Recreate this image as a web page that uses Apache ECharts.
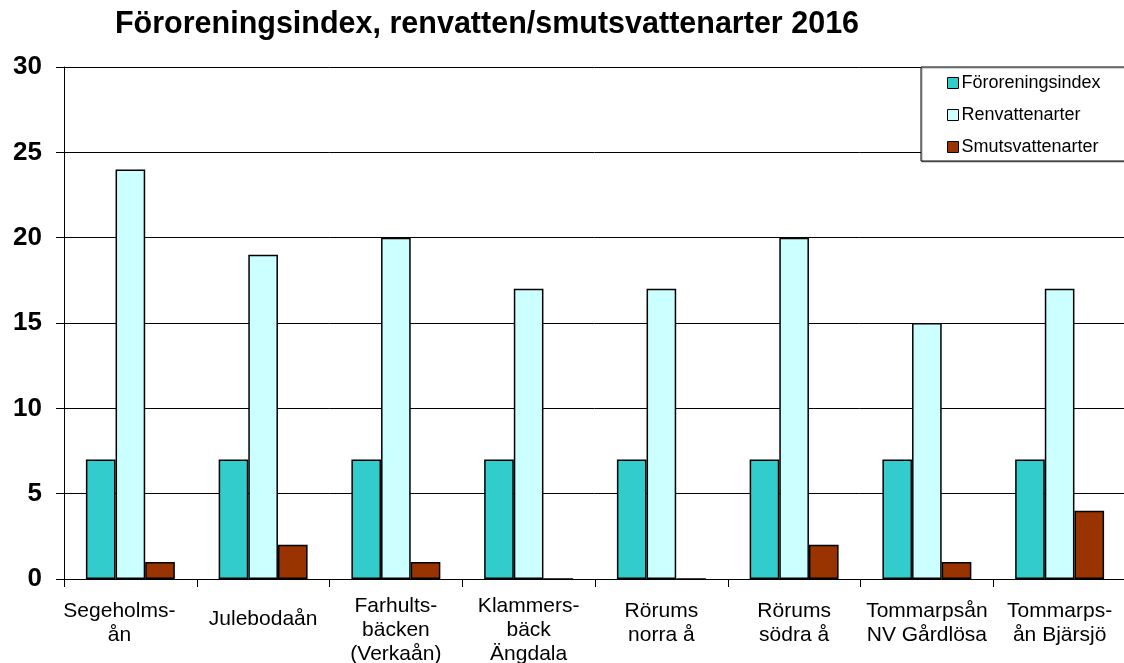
<!DOCTYPE html>
<html><head><meta charset="utf-8">
<script src="https://cdn.jsdelivr.net/npm/echarts@6/dist/echarts.min.js"></script>
<style>html,body{margin:0;padding:0;background:#fff}#c{width:1124px;height:663px}</style>
</head><body><div id="c"></div>
<script>
const categories = ["Segeholms-\nån", "Julebodaån", "Farhults-\nbäcken\n(Verkaån)", "Klammers-\nbäck\nÄngdala", "Rörums\nnorra å", "Rörums\nsödra å", "Tommarpsån\nNV Gårdlösa", "Tommarps-\nån Bjärsjö"];
const fororeningsindex = [7, 7, 7, 7, 7, 7, 7, 7];
const renvattenarter = [24, 19, 20, 17, 17, 20, 15, 17];
const smutsvattenarter = [1, 2, 1, 0, 0, 2, 1, 4];
const yTicks = [0, 5, 10, 15, 20, 25, 30];

const chart = echarts.init(document.getElementById('c'));
const bs = {borderColor: '#000', borderWidth: 1.5};
const FONT = 'Liberation Sans, Arial, sans-serif';
// vertical offset of label block depends on its number of lines (layout only)
const padTop = {1: 13, 2: 5, 3: 0};
const catData = categories.map((c, i) => ({
  value: c,
  textStyle: {padding: [padTop[c.split('\n').length], i === 0 ? 22 : 0, 0, 0]}
}));
chart.setOption({
  animation: false,
  title: {text: 'Föroreningsindex, renvatten/smutsvattenarter 2016', left: 482, textAlign: 'center', top: 4,
    textStyle: {fontFamily: FONT, fontWeight: 'bold', fontSize: 30.5, color: '#000'}},
  legend: {orient: 'vertical', left: 921, top: 67,
    padding: [6, 40, 4, 26], itemGap: 12, itemWidth: 11, itemHeight: 11, icon: 'rect',
    backgroundColor: '#fff', borderColor: '#000', borderWidth: 1,
    shadowColor: 'rgba(0,0,0,0.35)', shadowOffsetX: 1, shadowOffsetY: 1,
    textStyle: {fontFamily: FONT, fontSize: 18, lineHeight: 20, color: '#000', padding: [0,0,0,-2]},
    itemStyle: {borderColor: '#000', borderWidth: 1},
    data: ['Föroreningsindex', 'Renvattenarter', 'Smutsvattenarter']},
  grid: {left: 64, right: -2, top: 67, bottom: 84, containLabel: false, outerBoundsMode: 'none'},
  xAxis: {type: 'category', data: catData,
    axisLine: {lineStyle: {color: '#000', width: 1}},
    axisTick: {show: true, length: 8, lineStyle: {color: '#000'}},
    axisLabel: {interval: 0, fontFamily: FONT, fontSize: 21, color: '#000', lineHeight: 24, margin: 15}},
  yAxis: {type: 'value', min: 0, max: 30, interval: 5,
    axisLine: {show: true, lineStyle: {color: '#000', width: 1}},
    axisTick: {show: true, length: 8, lineStyle: {color: '#000'}},
    splitLine: {lineStyle: {color: '#000', width: 1}},
    axisLabel: {fontFamily: FONT, fontWeight: 'bold', fontSize: 26, color: '#000', margin: 22,
      formatter: v => yTicks.includes(v) ? String(v) : ''}},
  series: [
    {name: 'Föroreningsindex', type: 'bar', data: fororeningsindex, barGap: '0%', barCategoryGap: '33%',
      itemStyle: Object.assign({color: '#33CCCC'}, bs)},
    {name: 'Renvattenarter', type: 'bar', data: renvattenarter, barGap: '0%', barCategoryGap: '33%',
      itemStyle: Object.assign({color: '#CCFFFF'}, bs)},
    {name: 'Smutsvattenarter', type: 'bar', data: smutsvattenarter, barGap: '0%', barCategoryGap: '33%',
      itemStyle: Object.assign({color: '#993300'}, bs)}
  ]
});
</script></body></html>
